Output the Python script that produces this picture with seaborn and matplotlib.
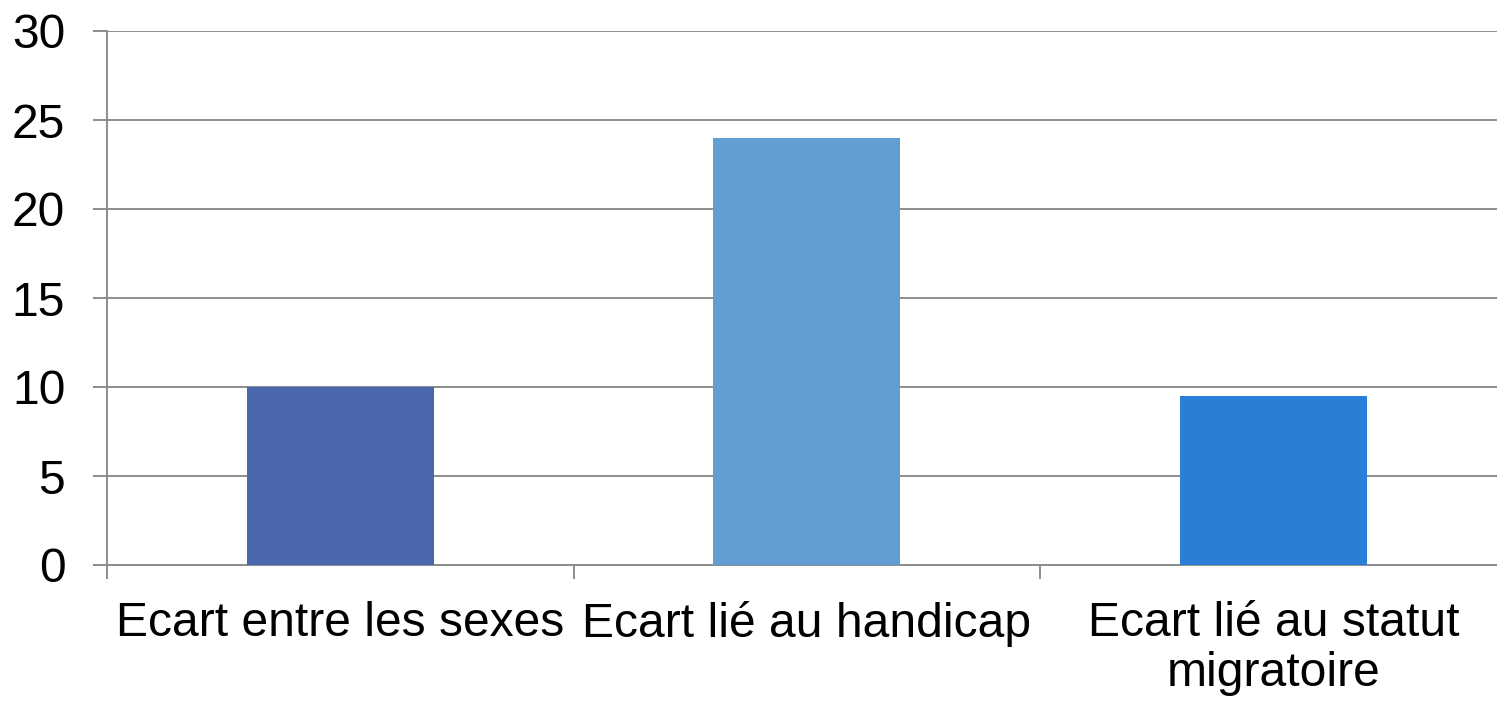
import pandas as pd
import matplotlib.pyplot as plt
import seaborn as sns

sns.set_style('white')
plt.rcParams['font.family'] = ['Liberation Sans', 'DejaVu Sans']
plt.rcParams['text.color'] = 'black'
plt.rcParams['xtick.color'] = 'black'
plt.rcParams['ytick.color'] = 'black'

# --- data ---
categories = ['Ecart entre les sexes', 'Ecart lié au handicap', 'Ecart lié au statut\nmigratoire']
values = [10, 24, 9.5]
colors = ['#4A67AE', '#629ED1', '#2B7ED6']
y_ticks = [0, 5, 10, 15, 20, 25, 30]

df = pd.DataFrame({'cat': categories, 'val': values})

W, H = 1497, 701
fig = plt.figure(figsize=(W / 100, H / 100), dpi=100)
ax = fig.add_axes([107 / W, (H - 565) / H, (W - 107) / W, (565 - 31) / H])

sns.barplot(data=df, x='cat', y='val', hue='cat', palette=colors,
            width=0.4, saturation=1, legend=False, ax=ax, zorder=3,
            linewidth=0, edgecolor='none')

grid_c = '#8C8C8C'
ax.set_ylim(0, 30)
ax.set_yticks(y_ticks)
ax.set_xlim(-0.5, -0.5 + (W - 107) / 466.5)
ax.yaxis.grid(True, color=grid_c, linewidth=1.4, zorder=0)
ax.set_axisbelow(True)

for s in ['top', 'right']:
    ax.spines[s].set_visible(False)
for s in ['left', 'bottom']:
    ax.spines[s].set_color(grid_c)
    ax.spines[s].set_linewidth(1.4)

# tick marks at category boundaries, labels at centres
ax.set_xticks([-0.5, 0.5, 1.5], minor=True)
ax.tick_params(axis='x', which='minor', bottom=True, length=10, width=1.4,
               color=grid_c, direction='out')
ax.tick_params(axis='x', which='major', bottom=True, length=0, pad=26,
               labelsize=34.6, labelcolor='black')
ax.tick_params(axis='y', left=True, length=10, width=1.4, color=grid_c,
               direction='out', pad=20, labelsize=34.6, labelcolor='black')
ax.set_xlabel('')
ax.set_ylabel('')
for lbl in ax.get_xticklabels():
    lbl.set_linespacing(1.15)
    lbl.set_horizontalalignment('center')

fig.savefig('out.png', dpi=100)
